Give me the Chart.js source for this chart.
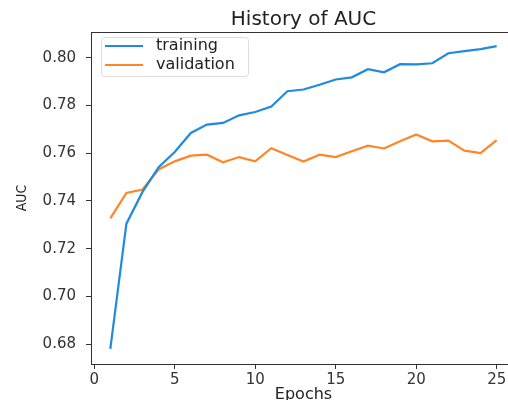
<!DOCTYPE html>
<html>
<head>
<meta charset="utf-8">
<script src="https://cdn.jsdelivr.net/npm/chart.js@4.4.0/dist/chart.umd.min.js"></script>
<style>
    body {
        margin: 0;
        padding: 0;
        background: #fff;
        overflow: hidden;
    }

    #wrap {
        width: 530px;
        height: 400px;
        position: relative;
    }
</style>
</head>
<body>
<div id="wrap"><canvas id="auc"></canvas></div>
<script>
    // values
    const epochs = [1, 2, 3, 4, 5, 6, 7, 8, 9, 10, 11, 12, 13, 14, 15, 16, 17, 18, 19, 20, 21, 22, 23, 24, 25];
    const trainingAuc = [0.678, 0.7305, 0.7438, 0.7542, 0.7605, 0.7685, 0.772, 0.7727, 0.7759, 0.7773,
        0.7796, 0.786, 0.7867, 0.7887, 0.7909, 0.7918, 0.7952, 0.7939, 0.7973, 0.7972,
        0.7977, 0.8019, 0.8028, 0.8036, 0.8049];
    const validationAuc = [0.7327, 0.7434, 0.7448, 0.7532, 0.7566, 0.759, 0.7594, 0.7562, 0.7584, 0.7566,
        0.7621, 0.7593, 0.7565, 0.7594, 0.7584, 0.7608, 0.7632, 0.762, 0.765, 0.7679,
        0.765, 0.7653, 0.7611, 0.7601, 0.7655];
    const xTicks = [0, 5, 10, 15, 20, 25];
    const yTicks = [0.68, 0.70, 0.72, 0.74, 0.76, 0.78, 0.80];

    const ink = '#333';
    const font = 'DejaVu Sans';

    // frame + legend drawn inside the plot, like matplotlib
    const frameAndLegend = {
        id: 'frameAndLegend',
        afterDraw(chart) {
            const {ctx, chartArea: a} = chart;
            ctx.save();
            ctx.strokeStyle = ink;
            ctx.lineWidth = 1;
            ctx.strokeRect(a.left + 0.5, a.top + 0.5, a.right - a.left, a.bottom - a.top);

            const bx = a.left + 10, by = a.top + 5, bw = 147, bh = 39;
            ctx.fillStyle = 'rgba(255,255,255,0.85)';
            ctx.strokeStyle = '#ddd';
            ctx.beginPath();
            ctx.roundRect(bx + 0.5, by + 0.5, bw, bh, 3);
            ctx.fill();
            ctx.stroke();

            ctx.font = '16px ' + font;
            ctx.textBaseline = 'middle';
            chart.data.datasets.forEach((ds, i) => {
                const y = by + 9 + i * 19;
                ctx.strokeStyle = ds.borderColor;
                ctx.lineWidth = 2;
                ctx.beginPath();
                ctx.moveTo(bx + 4, y);
                ctx.lineTo(bx + 42, y);
                ctx.stroke();
                ctx.fillStyle = '#222';
                ctx.fillText(ds.label, bx + 55, y);
            });
            ctx.restore();
        }
    };

    new Chart('auc', {
        type: 'line',
        data: {
            datasets: [{
                label: 'training',
                data: epochs.map((e, i) => ({x: e, y: trainingAuc[i]})),
                borderColor: '#1f8ae0',
                borderWidth: 2.2,
                pointRadius: 0,
                tension: 0
            }, {
                label: 'validation',
                data: epochs.map((e, i) => ({x: e, y: validationAuc[i]})),
                borderColor: '#ff8527',
                borderWidth: 2.2,
                pointRadius: 0,
                tension: 0
            }]
        },
        options: {
            responsive: true,
            maintainAspectRatio: false,
            animation: false,
            layout: {padding: {left: 0, top: 0, right: 14, bottom: 0}},
            plugins: {
                legend: {display: false},
                tooltip: {enabled: false},
                title: {
                    display: true,
                    text: 'History of AUC',
                    fullSize: false,
                    color: '#222',
                    font: {family: font, size: 20, weight: 'normal', lineHeight: 1.2},
                    padding: {top: 8, bottom: 0}
                }
            },
            scales: {
                x: {
                    type: 'linear',
                    min: -0.2,
                    max: 26.2,
                    afterBuildTicks: s => { s.ticks = xTicks.map(v => ({value: v})); },
                    afterFit: s => { s.height = 36; },
                    ticks: {color: ink, font: {family: font, size: 15}, padding: 2},
                    grid: {drawOnChartArea: false, tickLength: 5, color: ink},
                    border: {color: ink},
                    title: {
                        display: true,
                        text: 'Epochs',
                        color: '#222',
                        font: {family: font, size: 16, lineHeight: 1},
                        padding: {top: 0, bottom: -3}
                    }
                },
                y: {
                    min: 0.6717,
                    max: 0.8108,
                    afterBuildTicks: s => { s.ticks = yTicks.map(v => ({value: v})); },
                    afterFit: s => { s.width = 91; },
                    ticks: {
                        color: ink,
                        font: {family: font, size: 15},
                        padding: 10,
                        callback: v => v.toFixed(2)
                    },
                    grid: {drawOnChartArea: false, tickLength: 5, color: ink},
                    border: {color: ink},
                    title: {
                        display: true,
                        text: 'AUC',
                        color: '#222',
                        font: {family: "'DejaVu Sans Condensed', 'Liberation Sans Narrow', sans-serif", size: 14, lineHeight: 1.2},
                        padding: {top: 14, bottom: 0}
                    }
                }
            }
        },
        plugins: [frameAndLegend]
    });
</script>
</body>
</html>
